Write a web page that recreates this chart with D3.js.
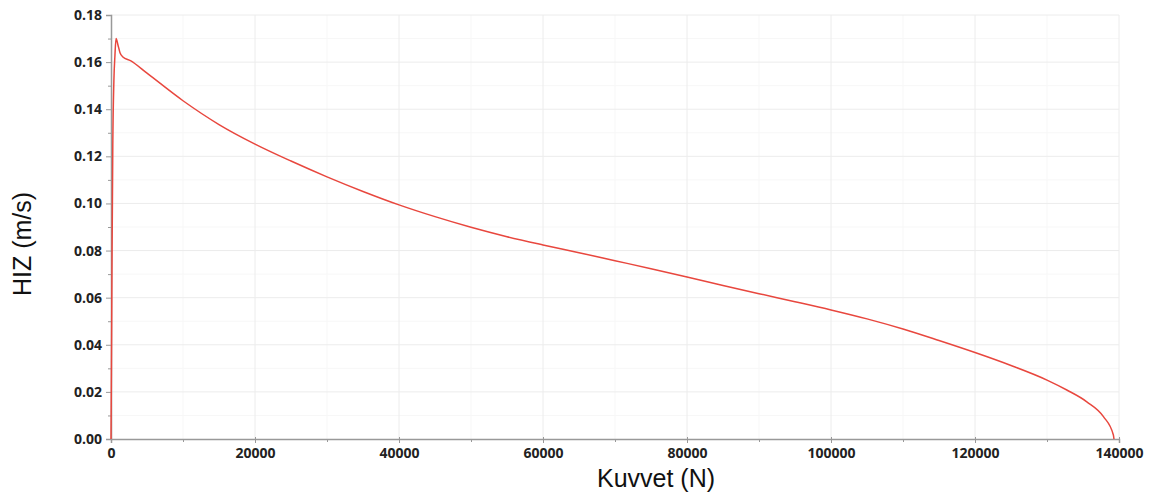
<!DOCTYPE html>
<html>
<head>
<meta charset="utf-8">
<script src="https://cdn.jsdelivr.net/npm/d3@7"></script>
<style>
  body { margin: 0; background: #fff; }
  svg { display: block; }
</style>
</head>
<body>
<svg id="chart" width="1154" height="496"></svg>
<script>
'use strict';

// force (N) and speed (m/s)
let force = [0, 60, 150, 250, 400, 550, 700, 950, 1250, 1650, 2700, 5000, 10000, 15000, 20000, 25000,
	30000, 35000, 40000, 45000, 50000, 55000, 60000, 65000, 70000, 75000, 80000, 85000, 90000, 95000,
	100000, 105000, 110000, 115000, 120000, 125000, 130000, 132750, 135530, 137840, 139220, 139300];
let speed = [0, 0.03, 0.08, 0.125, 0.152, 0.163, 0.170, 0.1675, 0.1640, 0.1622, 0.1606, 0.1553, 0.1436,
	0.1335, 0.1252, 0.1180, 0.1113, 0.1051, 0.0994, 0.0944, 0.0899, 0.0859, 0.0824, 0.0791, 0.0757,
	0.0723, 0.0688, 0.0652, 0.0617, 0.0583, 0.0548, 0.0510, 0.0467, 0.0418, 0.0367, 0.0312, 0.0250,
	0.0208, 0.0158, 0.0095, 0.0017, 0];

let xTicks = [0, 20000, 40000, 60000, 80000, 100000, 120000, 140000];
let xMinor = [10000, 30000, 50000, 70000, 90000, 110000, 130000];
let yTicks = [0, 0.02, 0.04, 0.06, 0.08, 0.10, 0.12, 0.14, 0.16, 0.18];
let yMinor = [0.01, 0.03, 0.05, 0.07, 0.09, 0.11, 0.13, 0.15, 0.17];

let xTitle = "Kuvvet (N)";
let yTitle = "HIZ (m/s)";

let data = force.map(function (f, i) {
	return {x: f, y: speed[i]};
});

let svg = d3.select("#chart"),
	margin = {top: 15, right: 35, bottom: 57, left: 111},
	width = +svg.attr("width") - margin.left - margin.right,
	height = +svg.attr("height") - margin.top - margin.bottom,
	g = svg.append("g").attr("transform", "translate(" + margin.left + "," + margin.top + ")");

let x = d3.scaleLinear().domain([0, 140000]).range([0, width]);
let y = d3.scaleLinear().domain([0, 0.18]).range([height, 0]);

// grid
g.append("g").selectAll("line").data(xMinor).enter().append("line")
	.attr("x1", x).attr("x2", x).attr("y1", 0).attr("y2", height)
	.attr("stroke", "#f7f7f7");
g.append("g").selectAll("line").data(yMinor).enter().append("line")
	.attr("x1", 0).attr("x2", width).attr("y1", y).attr("y2", y)
	.attr("stroke", "#f7f7f7");
g.append("g").selectAll("line").data(xTicks.slice(1)).enter().append("line")
	.attr("x1", x).attr("x2", x).attr("y1", 0).attr("y2", height)
	.attr("stroke", "#ececec");
g.append("g").selectAll("line").data(yTicks.slice(1)).enter().append("line")
	.attr("x1", 0).attr("x2", width).attr("y1", y).attr("y2", y)
	.attr("stroke", "#ececec");

function styleTicks(a) {
	a.selectAll(".tick text")
		.style("font-family", "'Open Sans', sans-serif")
		.style("font-weight", "bold")
		.style("font-size", "14px")
		.style("fill", "#222");
}

// axes
let xAxis = g.append("g")
	.attr("transform", "translate(0," + height + ")")
	.call(d3.axisBottom(x).tickValues(xTicks).tickFormat(d3.format("d")).tickSize(4).tickPadding(5));
xAxis.select(".domain").attr("stroke", "#999").attr("stroke-width", 1.5);
xAxis.selectAll(".tick line").attr("stroke", "#999").attr("y1", -2);
styleTicks(xAxis);

g.append("g")
	.attr("transform", "translate(0," + height + ")")
	.call(d3.axisBottom(x).tickValues(xMinor).tickFormat("").tickSize(3))
	.call(function (a) { a.select(".domain").remove(); a.selectAll("line").attr("stroke", "#999"); });

let yAxis = g.append("g")
	.call(d3.axisLeft(y).tickValues(yTicks).tickFormat(d3.format(".2f")).tickSize(5).tickPadding(4));
yAxis.select(".domain").attr("stroke", "#999").attr("stroke-width", 1.5);
yAxis.selectAll(".tick line").attr("stroke", "#999");
styleTicks(yAxis);

g.append("g")
	.call(d3.axisLeft(y).tickValues(yMinor).tickFormat("").tickSize(3))
	.call(function (a) { a.select(".domain").remove(); a.selectAll("line").attr("stroke", "#999"); });

// curve
let line = d3.line()
	.x(function (d) { return x(d.x); })
	.y(function (d) { return y(d.y); })
	.curve(d3.curveMonotoneX);

g.append("path")
	.datum(data)
	.attr("fill", "none")
	.attr("stroke", "#e8473e")
	.attr("stroke-width", 1.5)
	.attr("d", line);

// titles
svg.append("text")
	.attr("x", 656)
	.attr("y", 487)
	.attr("text-anchor", "middle")
	.style("font-family", "Liberation Sans, Arial, sans-serif")
	.style("font-size", "25px")
	.style("fill", "#111")
	.text(xTitle);

svg.append("text")
	.attr("transform", "translate(31,244) rotate(-90)")
	.attr("text-anchor", "middle")
	.style("font-family", "Liberation Sans, Arial, sans-serif")
	.style("font-size", "25px")
	.style("fill", "#111")
	.text(yTitle);
</script>
</body>
</html>
